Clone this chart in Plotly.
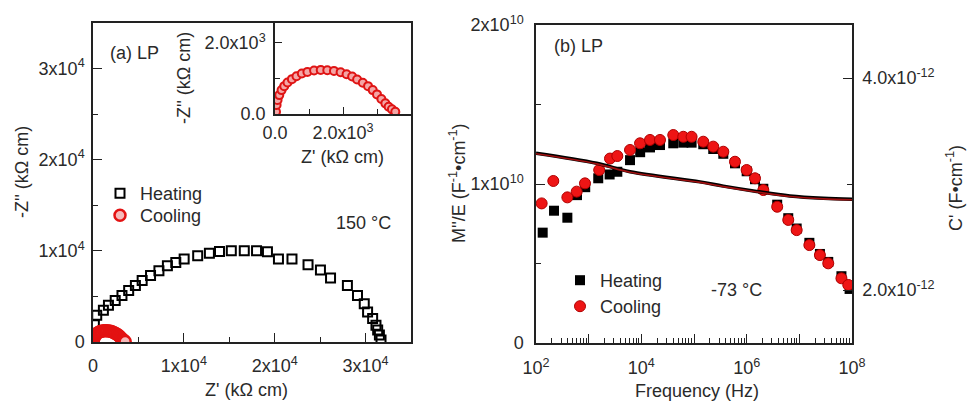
import plotly.graph_objects as go

# ---------------- Nyquist data, 150 °C ----------------
heat_zre = [60, 150, 411, 1144, 1700, 2444, 3189, 3926, 4667, 5411, 6333, 7256, 8189, 9111,
            10033, 11522, 12811, 13922, 15222, 16650, 18000, 19200, 20411, 21900, 23667, 25033,
            26144, 28000, 29111, 29856, 30222, 30778, 31144, 31333, 31522, 31700]
heat_zim = [800, 1900, 2935, 3478, 4022, 4565, 5109, 5652, 6196, 6739, 7283, 7826, 8370, 8732,
            9094, 9457, 9746, 9927, 10000, 10000, 10000, 9900, 9094, 9094, 8478, 7899,
            7029, 6196, 5109, 4203, 3297, 2572, 1848, 1304, 761, 217]

cool_zre = [29, 47, 76, 126, 193, 272, 368, 497, 632, 789, 953, 1149, 1345, 1538, 1734, 1930,
            2105, 2269, 2415, 2582, 2737, 2874, 3000, 3129, 3246, 3342, 3439, 3538]
cool_zim = [64, 252, 392, 532, 672, 784, 888, 980, 1064, 1140, 1185, 1224, 1241, 1232, 1213, 1176,
            1120, 1056, 972, 877, 784, 672, 552, 420, 300, 204, 132, 64]

# ---------------- M''/E and C' vs frequency, -73 °C ----------------
heat_f = [134, 220, 394, 600, 860, 1520, 2500, 3500, 6100, 9500, 14600, 22600, 40400, 62600,
          90000, 150000, 232000, 360000, 600000, 1.0e6, 1.44e6, 2.07e6, 3.8e6, 6.16e6, 8.9e6,
          1.55e7, 2.46e7, 3.54e7, 6.3e7, 9.0e7]
heat_m = [6.94e9, 8.32e9, 7.88e9, 9.3e9, 9.8e9, 10.36e9, 10.6e9, 10.77e9, 11.5e9, 12.0e9, 12.3e9,
          12.45e9, 12.56e9, 12.6e9, 12.6e9, 12.5e9, 12.2e9, 11.9e9, 11.3e9, 10.8e9, 10.3e9, 9.7e9,
          8.7e9, 7.85e9, 7.2e9, 6.3e9, 5.6e9, 5.1e9, 4.2e9, 3.4e9]

cool_f = [128, 213, 394, 592, 851, 1585, 2540, 3500, 6100, 9440, 14600, 22600, 40400, 62600,
          90000, 150000, 232000, 360000, 600000, 1.0e6, 1.44e6, 2.07e6, 3.8e6, 6.16e6, 8.9e6,
          1.55e7, 2.46e7, 3.54e7, 6.3e7, 8.5e7]
cool_m = [8.78e9, 10.19e9, 9.16e9, 9.52e9, 10.04e9, 10.88e9, 11.6e9, 11.76e9, 12.14e9, 12.56e9,
          12.77e9, 12.77e9, 13.08e9, 12.97e9, 12.97e9, 12.66e9, 12.35e9, 12.03e9, 11.4e9, 10.88e9,
          10.36e9, 9.62e9, 8.57e9, 7.74e9, 7.1e9, 6.16e9, 5.53e9, 5.01e9, 4.07e9, 3.65e9]

cap_f = [100, 1420, 6100, 1.3e5, 3.6e5, 1.55e6, 6.6e6, 2.85e7, 1.0e8]
cap_heat = [3.29e-12, 3.195e-12, 3.116e-12, 3.02e-12, 2.98e-12, 2.93e-12, 2.887e-12, 2.865e-12, 2.856e-12]
cap_cool = [3.285e-12, 3.19e-12, 3.111e-12, 3.015e-12, 2.975e-12, 2.925e-12, 2.882e-12, 2.86e-12, 2.851e-12]

# ---------------- page geometry (pixels) ----------------
W, H = 968, 401
FONT = "Liberation Sans, Arial, sans-serif"
TXT = "#2a2a2a"
AX = "#222222"


def px_x(a, b):
    return [a / W, b / W]


def px_y(top, bottom):
    return [1 - bottom / H, 1 - top / H]


def sup(base, e):
    return f"{base}x10<sup>{e}</sup>"


fig = go.Figure()

open_sq = dict(symbol="square-open", size=9, color="black", line=dict(width=2, color="black"))
pink_dot = dict(symbol="circle", size=11, color="#f6b9b9", line=dict(width=2.5, color="#e31212"))
black_sq = dict(symbol="square", size=10, color="black", line=dict(width=0))
red_dot = dict(symbol="circle", size=11, color="#ee1515", line=dict(width=1, color="#b00000"))

# (a) main Nyquist plot
fig.add_trace(go.Scatter(x=heat_zre, y=heat_zim, mode="markers", name="Heating", marker=open_sq,
                         xaxis="x", yaxis="y", legend="legend"))
fig.add_trace(go.Scatter(x=cool_zre, y=cool_zim, mode="markers", name="Cooling", marker=pink_dot,
                         xaxis="x", yaxis="y", legend="legend2"))

# (a) inset: cooling arc enlarged
fig.add_trace(go.Scatter(
    x=cool_zre, y=cool_zim, mode="markers", showlegend=False,
    marker=dict(symbol="circle", size=8, color="#f4a6a6", line=dict(width=2, color="#df1414")),
    xaxis="x2", yaxis="y2"))

# (b) C' curves on the right axis
fig.add_trace(go.Scatter(
    x=cap_f, y=cap_heat, mode="lines", showlegend=False, line=dict(color="black", width=3.5, shape="spline"),
    xaxis="x3", yaxis="y4"))
fig.add_trace(go.Scatter(
    x=cap_f, y=cap_cool, mode="lines", showlegend=False, line=dict(color="#a01010", width=1.6, shape="spline"),
    xaxis="x3", yaxis="y4"))

# (b) M''/E points on the left axis
fig.add_trace(go.Scatter(x=heat_f, y=heat_m, mode="markers", name="Heating", marker=black_sq,
                         xaxis="x3", yaxis="y3", legend="legend3"))
fig.add_trace(go.Scatter(x=cool_f, y=cool_m, mode="markers", name="Cooling", marker=red_dot,
                         xaxis="x3", yaxis="y3", legend="legend4"))

axis_common = dict(showline=True, linecolor=AX, linewidth=1.5, mirror=True, ticks="inside",
                   tickcolor=AX, tickwidth=1.3, ticklen=9, showgrid=False, zeroline=False,
                   automargin=False, tickfont=dict(family=FONT, size=18, color=TXT), tickmode="array")
minor_common = dict(ticks="inside", ticklen=5, tickcolor=AX, tickwidth=1.2, showgrid=False, tickmode="array")

# main panel (a)
xa_main_vals = [0, 1e4, 2e4, 3e4]
xa_main_text = ["0", sup(1, 4), sup(2, 4), sup(3, 4)]
ya_main_vals = [0, 1e4, 2e4, 3e4]
ya_main_text = ["0", sup(1, 4), sup(2, 4), sup(3, 4)]

# inset
xi_vals = [0, 2e3]
xi_text = ["0.0", "2.0x10<sup>3</sup>"]
yi_vals = [0, 2e3]
yi_text = ["0.0", "2.0x10<sup>3</sup>"]

# panel (b)
fx_vals = [1e2, 1e3, 1e4, 1e5, 1e6, 1e7, 1e8]
fx_text = ["10<sup>2</sup>", "", "10<sup>4</sup>", "", "10<sup>6</sup>", "", "10<sup>8</sup>"]
fx_minor = [k * 10 ** d for d in range(2, 8) for k in range(2, 10)]
m_vals = [0, 1e10, 2e10]
m_text = ["0", sup(1, 10), sup(2, 10)]
c_vals = [2e-12, 4e-12]
c_text = ["2.0x10<sup>-12</sup>", "4.0x10<sup>-12</sup>"]


def legend_box(x_px, y_px):
    return dict(x=x_px / W, y=1 - y_px / H, xanchor="left", yanchor="top", bgcolor="rgba(0,0,0,0)",
                font=dict(family=FONT, size=18, color=TXT), itemwidth=30)


fig.update_layout(
    width=W, height=H, margin=dict(l=0, r=0, t=0, b=0, autoexpand=False),
    paper_bgcolor="white", plot_bgcolor="rgba(0,0,0,0)",
    font=dict(family=FONT, size=18, color=TXT),
    xaxis=dict(axis_common, domain=px_x(93, 411), range=[0, 3.5e4], anchor="y",
               tickvals=xa_main_vals, ticktext=xa_main_text, ticklabelstandoff=7,
               minor=dict(minor_common, tickvals=[5e3, 1.5e4, 2.5e4])),
    yaxis=dict(axis_common, domain=px_y(23, 342), range=[0, 3.5e4], anchor="x",
               tickvals=ya_main_vals, ticktext=ya_main_text, ticklabelstandoff=3,
               minor=dict(minor_common, tickvals=[5e3, 1.5e4, 2.5e4])),
    xaxis2=dict(axis_common, domain=px_x(275, 411), range=[0, 4e3], anchor="y2",
                tickvals=xi_vals, ticktext=xi_text, ticklen=7, ticklabelstandoff=2,
                minor=dict(minor_common, tickvals=[1e3, 3e3])),
    yaxis2=dict(axis_common, domain=px_y(23, 114), range=[0, 2.56e3], anchor="x2",
                tickvals=yi_vals, ticktext=yi_text, ticklen=7, ticklabelstandoff=4,
                minor=dict(minor_common, tickvals=[1e3])),
    xaxis3=dict(axis_common, domain=px_x(536, 852), type="log", range=[2, 8], anchor="y3",
                tickvals=fx_vals, ticktext=fx_text, ticklabelstandoff=8,
                minor=dict(minor_common, tickvals=fx_minor)),
    yaxis3=dict(axis_common, domain=px_y(25, 343), range=[0, 2e10], anchor="x3",
                tickvals=m_vals, ticktext=m_text, ticklabelstandoff=7,
                minor=dict(minor_common, tickvals=[5e9, 1.5e10])),
    yaxis4=dict(axis_common, overlaying="y3", side="right", anchor="x3", range=[1.5e-12, 4.5e-12],
                tickvals=c_vals, ticktext=c_text, mirror=False, ticklabelstandoff=5,
                minor=dict(minor_common, tickvals=[3e-12])),
    legend=legend_box(100, 175),
    legend2=legend_box(100, 197),
    legend3=legend_box(560, 262),
    legend4=legend_box(560, 288),
)


def label(text, x, y, angle=0, size=18):
    fig.add_annotation(text=text, x=x / W, y=1 - y / H, xref="paper", yref="paper",
                       showarrow=False, textangle=angle, xanchor="center", yanchor="middle",
                       font=dict(family=FONT, size=size, color=TXT))


# axis titles
label("Z' (kΩ cm)", 246, 390)
label("-Z'' (kΩ cm)", 22, 172, angle=-90)
label("-Z'' (kΩ cm)", 184, 78, angle=-90)
label("Z' (kΩ cm)", 342, 157)
label("Frequency (Hz)", 697, 391)
label("M''/E (F<sup>-1</sup>•cm<sup>-1</sup>)", 457, 183, angle=-90)
label("C' (F•cm<sup>-1</sup>)", 954, 188, angle=-90)

# panel tags and temperatures
label("(a) LP", 134, 53)
label("150 °C", 363, 223)
label("(b) LP", 578, 46)
label("-73 °C", 736, 290)

fig.write_html("out.html")
